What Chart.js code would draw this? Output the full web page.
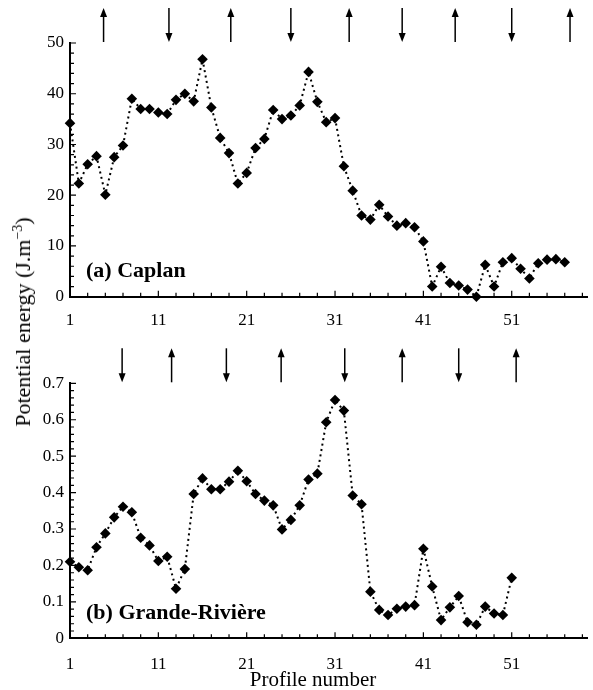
<!DOCTYPE html>
<html>
<head>
<meta charset="utf-8">
<script src="https://cdn.jsdelivr.net/npm/chart.js@4.4.0/dist/chart.umd.min.js"></script>
<style>
  body { margin: 0; background: #fff; }
  #page { position: relative; width: 593px; height: 690px; overflow: hidden; font-family: "Liberation Serif", serif; color: #000; }
  canvas { position: absolute; left: 0; }
  #caplanChart { top: 0; }
  #grandeChart { top: 330px; }
  .ytitle { position: absolute; left: 23px; top: 322px; transform: translate(-50%, -50%) rotate(-90deg); white-space: nowrap; font-size: 22px; line-height: 1; }
  .ytitle sup { font-size: 14px; vertical-align: 8px; line-height: 0; }
  .xtitle { position: absolute; left: 313px; top: 669px; transform: translateX(-50%); white-space: nowrap; font-size: 21px; line-height: 1; }
</style>
</head>
<body>
<div id="page">
  <canvas id="caplanChart" width="593" height="330"></canvas>
  <canvas id="grandeChart" width="593" height="360"></canvas>
  <div class="ytitle">Potential energy (J.m<sup>&minus;3</sup>)</div>
  <div class="xtitle">Profile number</div>
</div>
<script>
// potential energy per profile, profiles numbered from 1
const caplanEnergy = [
  34.2, 22.3, 26.1, 27.7, 20.1, 27.5, 29.8, 39.0, 37.0, 37.0,
  36.3, 36.0, 38.8, 40.0, 38.5, 46.8, 37.3, 31.3, 28.3, 22.3,
  24.4, 29.3, 31.1, 36.8, 35.0, 35.7, 37.7, 44.3, 38.4, 34.4,
  35.2, 25.7, 20.9, 16.0, 15.2, 18.1, 15.8, 14.0, 14.5, 13.7,
  10.9, 2.0, 5.9, 2.7, 2.2, 1.4, 0.0, 6.3, 2.0, 6.8,
  7.6, 5.5, 3.6, 6.6, 7.3, 7.4, 6.8
];
const grandeEnergy = [
  0.210, 0.195, 0.187, 0.250, 0.288, 0.332, 0.361, 0.346, 0.276, 0.255,
  0.212, 0.224, 0.136, 0.190, 0.396, 0.439, 0.409, 0.409, 0.430, 0.460,
  0.431, 0.396, 0.378, 0.365, 0.299, 0.325, 0.365, 0.436, 0.452, 0.593,
  0.654, 0.625, 0.392, 0.368, 0.128, 0.078, 0.064, 0.081, 0.087, 0.091,
  0.246, 0.142, 0.050, 0.085, 0.116, 0.044, 0.037, 0.087, 0.068, 0.064,
  0.166
];

const profileTicks = [1, 11, 21, 31, 41, 51];

// tide markers above each panel (profile position, direction)
const caplanArrowAt = [4.8, 12.2, 19.2, 26.0, 32.6, 38.6, 44.6, 51.0, 57.6];
const caplanArrowDir = ['up', 'down', 'up', 'down', 'up', 'down', 'up', 'down', 'up'];
const grandeArrowAt = [6.9, 12.5, 18.7, 24.9, 32.1, 38.6, 45.0, 51.5];
const grandeArrowDir = ['down', 'up', 'down', 'up', 'down', 'up', 'down', 'up'];

const serif = '"Liberation Serif", "Times New Roman", serif';

const panelDecor = {
    id: 'panelDecor',
    afterDraw(chart, args, opts) {
        const { ctx, chartArea, scales: { x, y } } = chart;
        ctx.save();
        ctx.strokeStyle = '#000';
        ctx.fillStyle = '#000';

        // inward ticks along the bottom axis
        ctx.lineWidth = 1.2;
        ctx.beginPath();
        for (let p = 1; p <= x.max; p += 2) {
            const px = x.getPixelForValue(p);
            const len = (p - 1) % 10 === 0 ? 6 : 4;
            ctx.moveTo(px, chartArea.bottom);
            ctx.lineTo(px, chartArea.bottom - len);
        }
        // inward ticks along the left axis
        const minors = opts.yMinorPerMajor;
        const step = opts.yStep / minors;
        for (let i = 0; i * step <= y.max + 1e-9; i++) {
            const py = y.getPixelForValue(i * step);
            const len = i % minors === 0 ? 6 : 4;
            ctx.moveTo(chartArea.left, py);
            ctx.lineTo(chartArea.left + len, py);
        }
        ctx.stroke();

        // arrows above the plot
        ctx.lineWidth = 1.5;
        const top = chartArea.top - 35;
        const bottom = chartArea.top - 1;
        opts.arrowAt.forEach((at, i) => {
            const px = x.getPixelForValue(at);
            const up = opts.arrowDir[i] === 'up';
            ctx.beginPath();
            ctx.moveTo(px, up ? top + 8 : top);
            ctx.lineTo(px, up ? bottom : bottom - 8);
            ctx.stroke();
            ctx.beginPath();
            if (up) {
                ctx.moveTo(px, top);
                ctx.lineTo(px - 3.5, top + 9);
                ctx.lineTo(px + 3.5, top + 9);
            } else {
                ctx.moveTo(px, bottom);
                ctx.lineTo(px - 3.5, bottom - 9);
                ctx.lineTo(px + 3.5, bottom - 9);
            }
            ctx.closePath();
            ctx.fill();
        });

        // panel name
        ctx.font = 'bold 22px ' + serif;
        ctx.textBaseline = 'alphabetic';
        ctx.fillText(opts.label, chartArea.left + 16, chartArea.bottom - 19.5);
        ctx.restore();
    }
};

function makePanel(canvasId, values, cfg) {
    const points = values.map((v, i) => ({ x: i + 1, y: v }));
    return new Chart(document.getElementById(canvasId), {
        type: 'line',
        data: {
            datasets: [{
                data: points,
                borderColor: '#000',
                borderWidth: 2,
                borderDash: [2, 3.5],
                pointStyle: 'rectRot',
                pointRadius: 5.3,
                pointBackgroundColor: '#000',
                pointBorderWidth: 0,
                tension: 0,
                clip: false
            }]
        },
        options: {
            responsive: false,
            animation: false,
            devicePixelRatio: 1,
            layout: { padding: { top: cfg.top, left: 0, right: 0, bottom: 0 } },
            plugins: {
                legend: { display: false },
                tooltip: { enabled: false },
                panelDecor: {
                    label: cfg.label,
                    arrowAt: cfg.arrowAt,
                    arrowDir: cfg.arrowDir,
                    yStep: cfg.yStep,
                    yMinorPerMajor: 5
                }
            },
            scales: {
                x: {
                    type: 'linear',
                    min: 1,
                    max: 59.6,
                    afterBuildTicks: s => { s.ticks = profileTicks.map(v => ({ value: v })); },
                    afterFit: s => { s.height = cfg.xHeight; },
                    ticks: { font: { family: serif, size: 17 }, color: '#000', padding: cfg.xPad, maxRotation: 0, autoSkip: false },
                    grid: { display: false, drawTicks: false },
                    border: { display: true, color: '#000', width: 2 }
                },
                y: {
                    min: 0,
                    max: cfg.yMax,
                    afterFit: s => { s.width = 70; },
                    ticks: { stepSize: cfg.yStep, font: { family: serif, size: 17 }, color: '#000', padding: 6 },
                    grid: { display: false, drawTicks: false },
                    border: { display: true, color: '#000', width: 2 }
                }
            }
        },
        plugins: [panelDecor]
    });
}

makePanel('caplanChart', caplanEnergy, {
    label: '(a) Caplan',
    top: 43, xHeight: 33.3, xPad: 14,
    yMax: 50, yStep: 10,
    arrowAt: caplanArrowAt, arrowDir: caplanArrowDir
});

makePanel('grandeChart', grandeEnergy, {
    label: '(b) Grande-Rivière',
    top: 53.3, xHeight: 51.7, xPad: 16,
    yMax: 0.7, yStep: 0.1,
    arrowAt: grandeArrowAt, arrowDir: grandeArrowDir
});
</script>
</body>
</html>
